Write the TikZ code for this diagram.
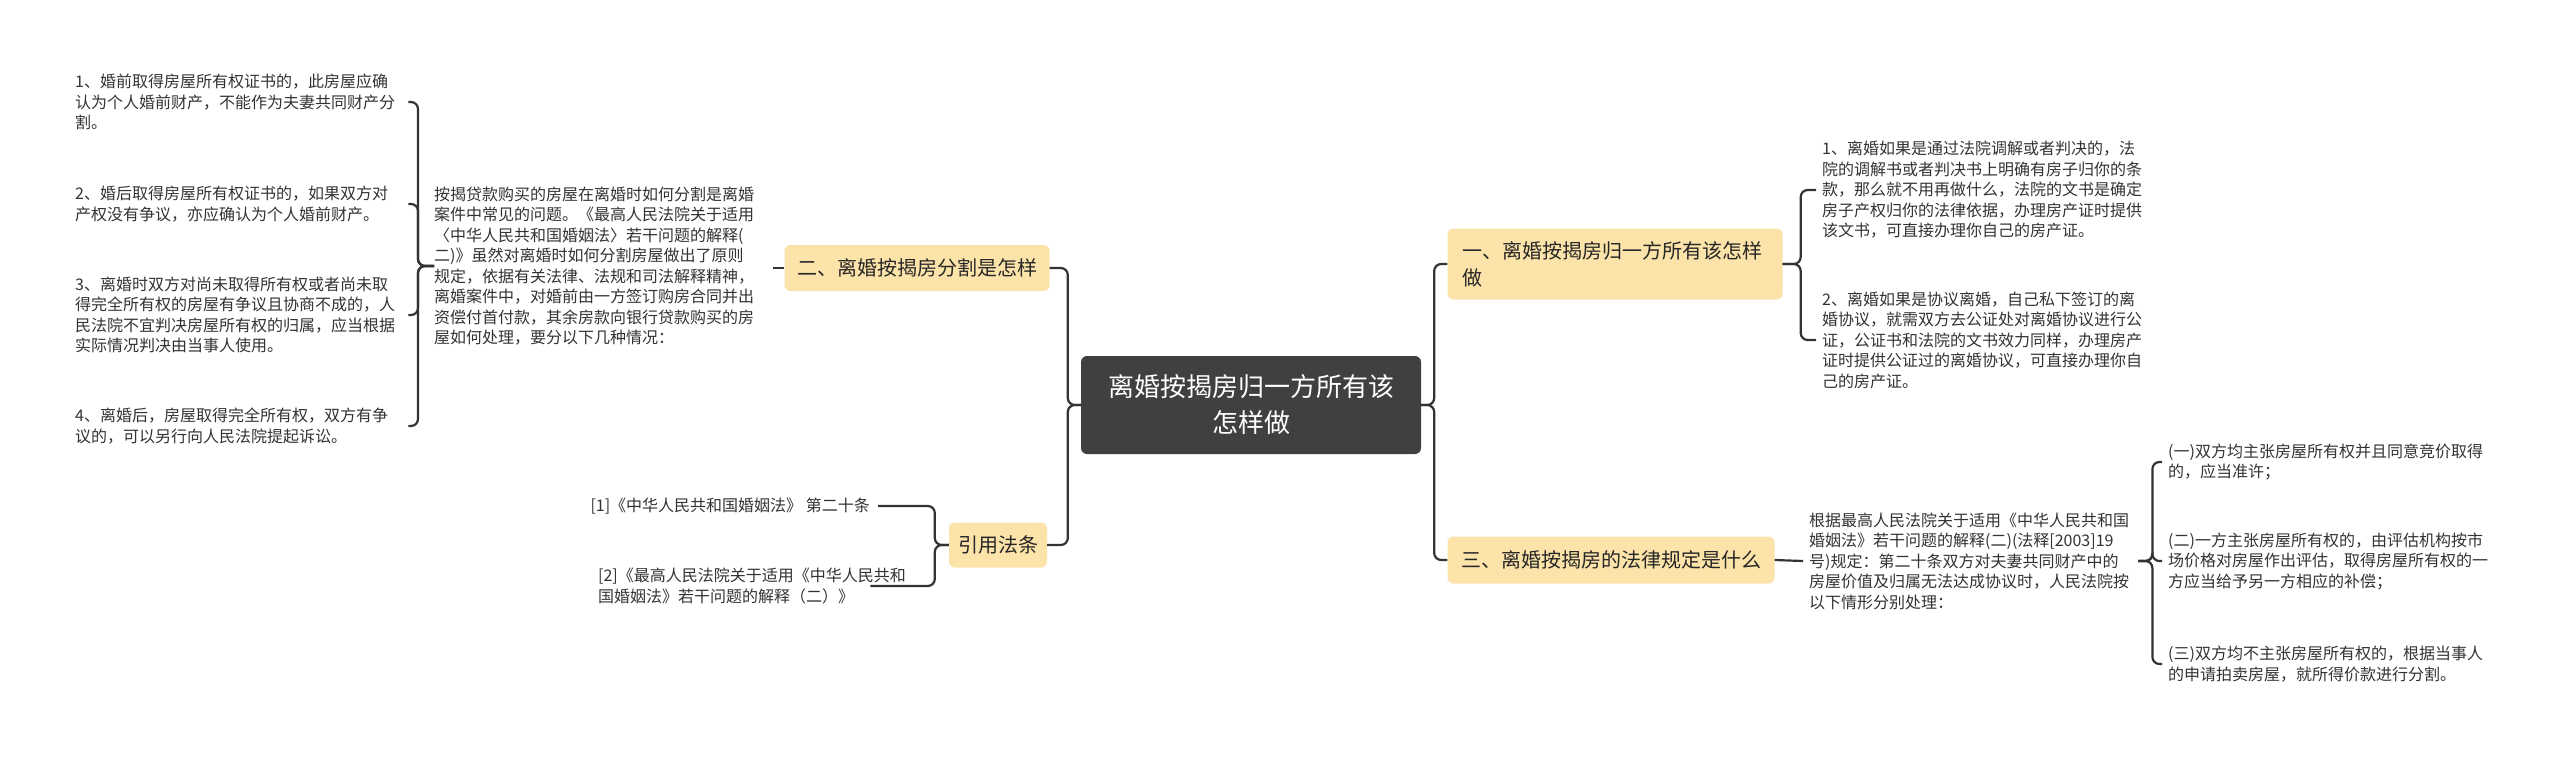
\documentclass[tikz,border=0pt]{standalone}
\usepackage{fontspec}
\setmainfont{Noto Sans CJK SC}
\begin{document}
\begin{tikzpicture}[x=1pt,y=-1pt,
  leaf/.style={font=\fontsize{16}{20.5}\selectfont, text=black!80, align=left, inner sep=0pt, anchor=west},
  branch/.style={fill=orange!20!yellow!35, rounded corners=6pt, font=\fontsize{20}{27}\selectfont, text=black!85, inner sep=0pt},
  conn/.style={draw=black!80, line width=2.2pt, rounded corners=7pt}]
\useasboundingbox[fill=white] (0,0) rectangle (2560,756);
\definecolor{bfill}{HTML}{FBE3A9}
% center
\node[fill=black!75, rounded corners=6pt, minimum width=340pt, minimum height=98pt, inner sep=0pt,
  text=white, align=center, font=\fontsize{26}{36}\selectfont] (C) at (1251,405) {离婚按揭房归一方所有该\\怎样做};
% branches
\node[branch, fill=bfill, minimum width=335pt, minimum height=71pt, text width=305pt, align=left] (B1) at (1615,264) {一、离婚按揭房归一方所有该怎样\\做};
\node[branch, fill=bfill, minimum width=327pt, minimum height=47pt] (B3) at (1611,560) {三、离婚按揭房的法律规定是什么};
\node[branch, fill=bfill, minimum width=265pt, minimum height=46pt] (B2) at (917,268) {二、离婚按揭房分割是怎样};
\node[branch, fill=bfill, minimum width=98pt, minimum height=45pt] (B4) at (998,545) {引用法条};
% left leaves
\node[leaf, text width=335pt] (L) at (434,266) {按揭贷款购买的房屋在离婚时如何分割是离婚\\案件中常见的问题。《最高人民法院关于适用\\〈中华人民共和国婚姻法〉若干问题的解释(\\二)》虽然对离婚时如何分割房屋做出了原则\\规定，依据有关法律、法规和司法解释精神，\\离婚案件中，对婚前由一方签订购房合同并出\\资偿付首付款，其余房款向银行贷款购买的房\\屋如何处理，要分以下几种情况：};
\node[leaf, text width=335pt] (l1) at (75,102) {1、婚前取得房屋所有权证书的，此房屋应确\\认为个人婚前财产，不能作为夫妻共同财产分\\割。};
\node[leaf, text width=335pt] (l2) at (75,204) {2、婚后取得房屋所有权证书的，如果双方对\\产权没有争议，亦应确认为个人婚前财产。};
\node[leaf, text width=335pt] (l3) at (75,315) {3、离婚时双方对尚未取得所有权或者尚未取\\得完全所有权的房屋有争议且协商不成的，人\\民法院不宜判决房屋所有权的归属，应当根据\\实际情况判决由当事人使用。};
\node[leaf, text width=335pt] (l4) at (75,426) {4、离婚后，房屋取得完全所有权，双方有争\\议的，可以另行向人民法院提起诉讼。};
% right leaves
\node[leaf, text width=335pt] (R1) at (1822,190) {1、离婚如果是通过法院调解或者判决的，法\\院的调解书或者判决书上明确有房子归你的条\\款，那么就不用再做什么，法院的文书是确定\\房子产权归你的法律依据，办理房产证时提供\\该文书，可直接办理你自己的房产证。};
\node[leaf, text width=335pt] (R2) at (1822,340) {2、离婚如果是协议离婚，自己私下签订的离\\婚协议，就需双方去公证处对离婚协议进行公\\证，公证书和法院的文书效力同样，办理房产\\证时提供公证过的离婚协议，可直接办理你自\\己的房产证。};
\node[leaf, text width=325pt] (R3) at (1809,561) {根据最高人民法院关于适用《中华人民共和国\\婚姻法》若干问题的解释(二)(法释[2003]19\\号)规定：第二十条双方对夫妻共同财产中的\\房屋价值及归属无法达成协议时，人民法院按\\以下情形分别处理：};
\node[leaf, text width=340pt] (a) at (2168,462) {(一)双方均主张房屋所有权并且同意竞价取得\\的，应当准许；};
\node[leaf, text width=340pt] (b) at (2168,561) {(二)一方主张房屋所有权的，由评估机构按市\\场价格对房屋作出评估，取得房屋所有权的一\\方应当给予另一方相应的补偿；};
\node[leaf, text width=340pt] (c) at (2168,664) {(三)双方均不主张房屋所有权的，根据当事人\\的申请拍卖房屋，就所得价款进行分割。};
% citations
\node[leaf, anchor=east] (c1) at (870,506) {[1]《中华人民共和国婚姻法》 第二十条};
\node[leaf, text width=262pt] (c2) at (598,586) {[2]《最高人民法院关于适用《中华人民共和\\国婚姻法》若干问题的解释（二）》};
% connectors
\draw[conn] (C.east) -- ++(13,0) |- (B1.west);
\draw[conn] (C.east) -- ++(13,0) |- (B3.west);
\draw[conn] (C.west) -- ++(-13,0) |- (B2.east);
\draw[conn] (C.west) -- ++(-13,0) |- (B4.east);
\draw[conn] (B2.west) -- ([xshift=4pt]L.east |- B2.west);
\foreach \n in {l1,l2,l3,l4} \draw[conn] (L.west) -- ++(-16,0) |- ([xshift=-2pt]\n.east);
\foreach \n in {R1,R2} \draw[conn] (B1.east) -- ++(18,0) |- ([xshift=-6pt]\n.west);
\draw[conn] (B3.west -| B3.east) -- ([xshift=-6pt]R3.west);
\foreach \n in {a,b,c} \draw[conn] ([xshift=4pt]R3.east) -- ++(14,0) |- ([xshift=-6pt]\n.west);
\draw[conn] (B4.west) -- ++(-14,0) |- ([xshift=8pt]c1.east);
\draw[conn] (B4.west) -- ++(-14,0) |- ([xshift=10pt]c2.east);
\end{tikzpicture}
\end{document}
